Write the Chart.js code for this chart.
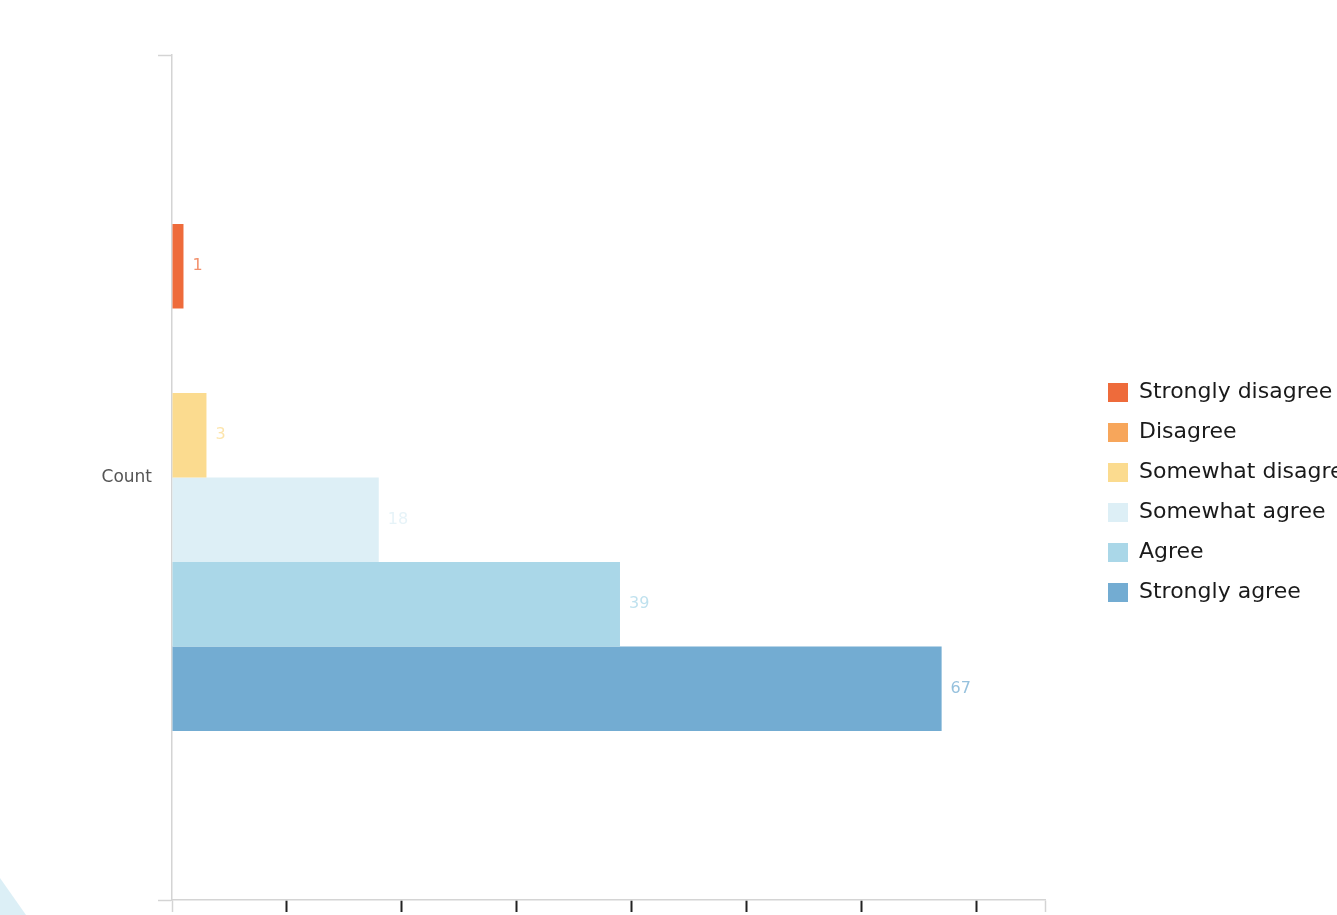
<!DOCTYPE html>
<html>
<head>
<meta charset="utf-8">
<title>Count</title>
<script src="https://cdn.jsdelivr.net/npm/chart.js@4"></script>
<style>
  html, body {
    margin: 0;
    padding: 0;
    background: #fff;
    overflow: hidden;
  }
  #wrap {
    position: relative;
    width: 1337px;
    height: 930px;
  }
  /* corner decoration */
  #corner {
    position: absolute;
    left: 0;
    top: 878px;
    width: 26px;
    height: 37px;
    background: #dceff6;
    clip-path: polygon(0 0, 100% 100%, 0 100%);
  }
</style>
</head>
<body>
<div id="wrap">
  <canvas id="myChart" width="1337" height="930"></canvas>
  <div id="corner"></div>
</div>
<script>
// ********** data ************
const categories = ["Count"];
const responses = [
  "Strongly disagree",
  "Disagree",
  "Somewhat disagree",
  "Somewhat agree",
  "Agree",
  "Strongly agree",
];
const counts = [1, 0, 3, 18, 39, 67];
const xTicks = [0, 10, 20, 30, 40, 50, 60, 70, 76];

const colors = ["#ee6b3b", "#f7a65b", "#fbdb8f", "#ddeff6", "#aad7e8", "#73acd2"];

Chart.defaults.font.family = "'DejaVu Sans', sans-serif";

// ********** value labels next to each bar ************
const valueLabels = {
  id: "valueLabels",
  afterDatasetsDraw(chart) {
    const ctx = chart.ctx;
    ctx.save();
    ctx.font = "16px 'DejaVu Sans', sans-serif";
    ctx.textBaseline = "middle";
    ctx.textAlign = "left";
    ctx.globalAlpha = 0.75;
    chart.data.datasets.forEach((ds, i) => {
      const bar = chart.getDatasetMeta(i).data[0];
      const value = ds.data[0];
      if (!bar || !value) return;
      ctx.fillStyle = ds.backgroundColor;
      ctx.fillText(String(value), bar.x + 9, bar.y);
    });
    ctx.restore();
  },
};

// ********** push the legend a bit away from the plot ************
const legendGap = {
  id: "legendGap",
  afterLayout(chart) {
    chart.legend.left += 45;
    chart.legend.right += 45;
  },
};

const ctx = document.getElementById("myChart");
const myChart = new Chart(ctx, {
  type: "bar",
  data: {
    labels: categories,
    datasets: responses.map((name, i) => ({
      label: name,
      data: [counts[i]],
      backgroundColor: colors[i],
      borderWidth: 0,
      categoryPercentage: 0.6,
      barPercentage: 1.0,
    })),
  },
  options: {
    indexAxis: "y",
    responsive: false,
    animation: false,
    layout: {
      padding: { top: 55, right: 42, bottom: 0, left: 0 },
    },
    scales: {
      x: {
        min: 0,
        max: 76,
        afterBuildTicks: (scale) => {
          scale.ticks = xTicks.map((v) => ({ value: v }));
        },
        afterFit: (scale) => {
          scale.height = 30;
        },
        grid: {
          drawOnChartArea: false,
          tickLength: 12,
          tickColor: (c) =>
            c.index === 0 || c.index === xTicks.length - 1 ? "#d4d4d4" : "#222",
          tickWidth: (c) =>
            c.index === 0 || c.index === xTicks.length - 1 ? 1.5 : 2,
        },
        border: { color: "#d4d4d4", width: 1.5 },
        ticks: {
          color: "#555",
          font: { size: 14 },
          autoSkip: false,
          maxRotation: 0,
        },
      },
      y: {
        afterFit: (scale) => {
          scale.width = 172;
        },
        grid: {
          drawOnChartArea: false,
          tickLength: 14,
          tickColor: "#d4d4d4",
          tickWidth: 1.5,
        },
        border: { color: "#d4d4d4", width: 1.5 },
        ticks: {
          color: "#555",
          padding: 6,
          font: { size: 17 },
        },
      },
    },
    plugins: {
      legend: {
        position: "right",
        maxWidth: 250,
        labels: {
          color: "#1a1a1a",
          boxWidth: 20,
          boxHeight: 19,
          padding: 18,
          font: { size: 22 },
        },
      },
      tooltip: { enabled: false },
    },
  },
  plugins: [valueLabels, legendGap],
});
</script>
</body>
</html>
